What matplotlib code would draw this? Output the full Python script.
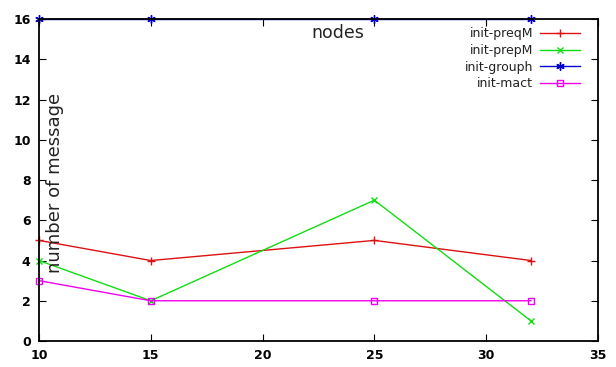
import matplotlib.pyplot as plt

# data
nodes = [10, 15, 25, 32]
preqM = [5, 4, 5, 4]
prepM = [4, 2, 7, 1]
grouph = [16, 16, 16, 16]
mact = [3, 2, 2, 2]

x_ticks = [10, 15, 20, 25, 30, 35]
y_ticks = [0, 2, 4, 6, 8, 10, 12, 14, 16]

fig = plt.figure(figsize=(6.16, 3.67), dpi=100)
ax = fig.add_axes([0.0633, 0.0708, 0.9075, 0.8772])

ax.plot(nodes, preqM, color="#dd1111", marker="+", ms=6, lw=1, label="init-preqM", clip_on=False)
ax.plot(nodes, prepM, color="#11dd11", marker="x", ms=5, lw=1, label="init-prepM", clip_on=False)
ax.plot(nodes, grouph, color="#0000cc", marker=(6, 2, 0), ms=6, lw=1, label="init-grouph", clip_on=False)
ax.plot(nodes, mact, color="#ee00ee", marker="s", ms=4.5, mfc="none", lw=1, label="init-mact", clip_on=False)

ax.set_xlim(10, 35)
ax.set_ylim(0, 16)
ax.set_xticks(x_ticks)
ax.set_yticks(y_ticks)
ax.tick_params(direction="in", top=True, right=True, length=5, labelsize=9, pad=6)
for lab in ax.get_xticklabels() + ax.get_yticklabels():
    lab.set_fontweight("bold")
for s in ax.spines.values():
    s.set_linewidth(1.3)

ax.text(0.535, 0.985, "nodes", transform=ax.transAxes, ha="center", va="top",
        fontsize=12.5, color="#222222")
ax.text(0.029, 0.49, "number of message", transform=ax.transAxes, rotation=90,
        ha="center", va="center", fontsize=13, color="#222222")

leg = ax.legend(loc="upper right", frameon=False, markerfirst=False, fontsize=9,
                handlelength=3.2, handletextpad=0.55, labelspacing=0.3,
                borderpad=0, borderaxespad=0, bbox_to_anchor=(0.968, 0.975))
for t in leg.get_texts():
    t.set_color("#222222")

plt.savefig("out.png")
